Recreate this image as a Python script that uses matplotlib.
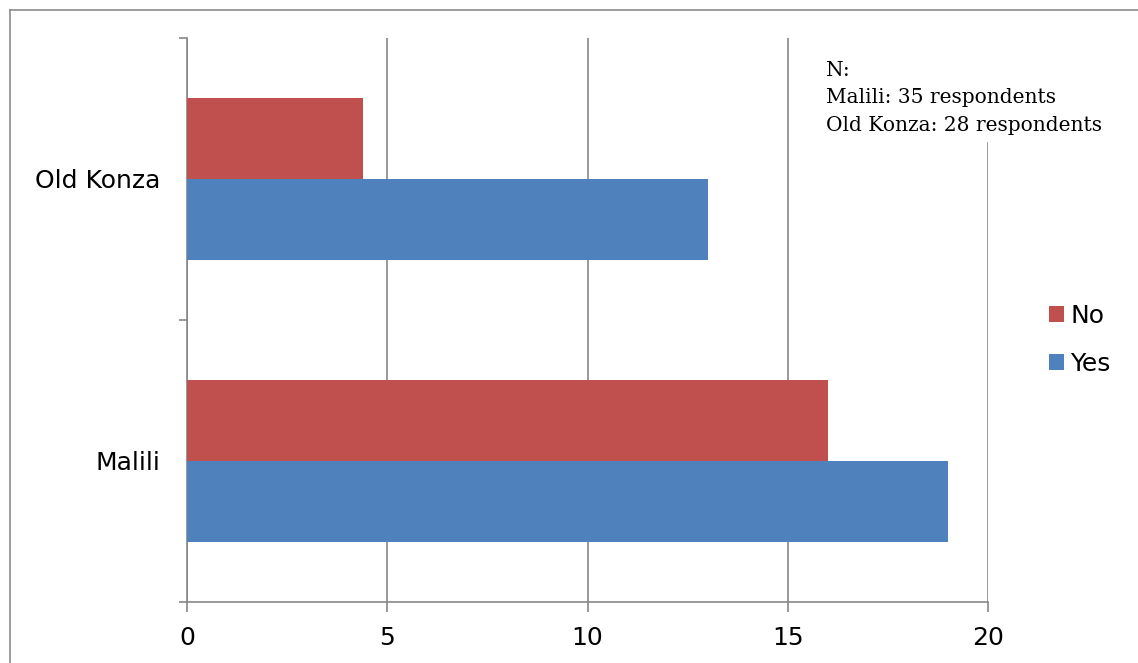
import matplotlib
matplotlib.use("Agg")
import matplotlib.pyplot as plt
from matplotlib.lines import Line2D

# Survey answers per village
categories = ["Malili", "Old Konza"]
yes_counts = [19, 13]
no_counts = [16, 4.4]
x_ticks = [0, 5, 10, 15, 20]
note_lines = ["N:", "Malili: 35 respondents", "Old Konza: 28 respondents"]

RED = "#C0504D"
BLUE = "#4F81BD"
AXIS_GREY = "#878787"

plt.rcParams["font.family"] = ["DejaVu Sans"]

fig = plt.figure(figsize=(11.38, 6.63), dpi=100)
ax = fig.add_axes([187 / 1138, 1 - 602 / 663, (988 - 187) / 1138, (602 - 38) / 663])

# outer chart frame: left and top edges
fx, fy = 9.5 / 1138, 1 - 9.5 / 663
fig.lines.append(Line2D([fx, fx], [0, fy], transform=fig.transFigure,
                        color="#8c8c8c", linewidth=1.2))
fig.lines.append(Line2D([fx, 1], [fy, fy], transform=fig.transFigure,
                        color="#8c8c8c", linewidth=1.2))

centers = [i + 0.5 for i in range(len(categories))]
bar_h = 0.287
no_bars = ax.barh([c + bar_h / 2 for c in centers], no_counts, height=bar_h,
                  color=RED, label="No", zorder=3)
yes_bars = ax.barh([c - bar_h / 2 for c in centers], yes_counts, height=bar_h,
                   color=BLUE, label="Yes", zorder=3)

ax.set_xlim(0, 20)
ax.set_ylim(0, len(categories))
ax.set_xticks(x_ticks)
ax.set_xticklabels([str(t) for t in x_ticks], fontsize=18)
ax.set_yticks(range(len(categories) + 1))
ax.set_yticklabels([])
ax.set_yticks(centers, minor=True)
ax.set_yticklabels(categories, minor=True, fontsize=18)

ax.tick_params(axis="y", which="major", length=6, width=1.2, color=AXIS_GREY, direction="out")
ax.tick_params(axis="y", which="minor", length=0, pad=19)
ax.tick_params(axis="x", which="major", length=7, width=1.2, color=AXIS_GREY,
               direction="out", pad=10)

for side in ("top", "right"):
    ax.spines[side].set_visible(False)
for side in ("left", "bottom"):
    ax.spines[side].set_color(AXIS_GREY)
    ax.spines[side].set_linewidth(1.2)

ax.xaxis.grid(True, color=AXIS_GREY, linewidth=1.2, zorder=1)
ax.set_axisbelow(True)
# the last gridline stops below the sample-size note
ax.xaxis.get_major_ticks()[-1].gridline.set_ydata([0, (602 - 143) / (602 - 38)])

ax.text(826 / 1138, 1 - 61 / 663, "\n".join(note_lines), transform=fig.transFigure,
        ha="left", va="top", fontsize=14.5, family="DejaVu Serif", linespacing=1.56,
        zorder=5)

leg = ax.legend(handles=[no_bars, yes_bars], labels=["No", "Yes"],
                loc="center left", bbox_to_anchor=(1039 / 1138, 1 - 340 / 663),
                bbox_transform=fig.transFigure, frameon=False, fontsize=18,
                handlelength=0.6, handleheight=0.6, handletextpad=0.25,
                labelspacing=0.95, borderaxespad=0)

fig.savefig("out.png", dpi=100)
